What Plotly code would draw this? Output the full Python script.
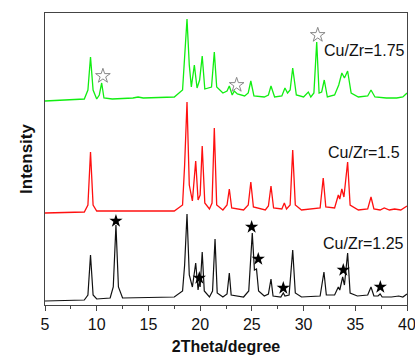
import plotly.graph_objects as go

# ---------------- data (2Theta in degree, intensity in arbitrary offset units) ----------------
black_x = [5.0, 8.8, 9.15, 9.4, 9.65, 10.0, 11.3, 11.6, 11.86, 12.1, 12.5, 17.5, 18.3, 18.5, 18.73, 18.95,
           19.25, 19.57, 19.8, 19.92, 20.0, 20.2, 20.4, 20.9, 21.2, 21.44, 21.65, 22.2, 22.6, 22.82, 23.0,
           24.2, 24.7, 25.04, 25.25, 25.45, 25.65, 26.2, 26.6, 26.85, 27.05, 27.8, 28.04, 28.2, 28.6, 28.95,
           29.2, 29.8, 31.6, 31.97, 32.2, 33.0, 33.36, 33.5, 33.78, 33.95, 34.26, 34.5, 35.2, 36.2, 36.52,
           36.8, 37.2, 37.4, 37.6, 38.5, 39.2, 39.6, 40.0]
black_y = [4, 5, 10, 50, 10, 6, 7, 18, 80, 18, 7, 8, 14, 40, 91, 30,
           18, 42, 15, 24, 18, 53, 14, 8, 14, 66, 12, 8, 11, 32, 10,
           8, 14, 72, 35, 36, 14, 9, 11, 26, 9, 8, 12, 9, 10, 55,
           12, 8, 9, 33, 10, 10, 18, 15, 28, 20, 52, 12, 9, 10, 18,
           9, 9, 11, 8, 8, 9, 8, 11]

red_x = [5.0, 8.8, 9.15, 9.4, 9.65, 10.0, 17.5, 18.3, 18.5, 18.73, 18.95, 19.25, 19.57, 19.8, 20.0, 20.2,
         20.45, 20.9, 21.15, 21.37, 21.6, 22.2, 22.6, 22.82, 23.05, 24.2, 24.65, 24.9, 25.15, 26.3, 26.6,
         26.85, 27.1, 27.9, 28.14, 28.35, 28.7, 28.95, 29.2, 29.8, 31.6, 31.9, 32.15, 33.0, 33.36, 33.5,
         33.7, 33.9, 34.26, 34.5, 35.3, 36.2, 36.52, 36.8, 37.4, 37.8, 38.3, 38.8, 39.4, 40.0]
red_y = [92, 93, 100, 153, 100, 94, 94, 100, 140, 203, 120, 104, 144, 105, 110, 159,
         102, 96, 102, 177, 100, 95, 100, 116, 97, 95, 100, 123, 98, 95, 99,
         119, 97, 96, 102, 96, 100, 155, 100, 95, 97, 127, 98, 97, 110, 106,
         116, 108, 143, 100, 95, 96, 108, 96, 95, 97, 95, 96, 95, 99]

green_x = [5.0, 8.8, 9.15, 9.4, 9.65, 10.0, 10.25, 10.48, 10.7, 11.5, 13.5, 14.0, 14.5, 17.5, 18.3, 18.5,
           18.73, 18.95, 19.15, 19.44, 19.7, 19.95, 20.2, 20.45, 21.1, 21.37, 21.6, 22.2, 22.6, 22.82, 23.1,
           23.3, 23.6, 24.3, 24.65, 24.9, 25.2, 26.2, 26.6, 26.85, 27.2, 27.9, 28.2, 28.45, 28.7, 28.95,
           29.3, 30.0, 30.46, 30.7, 31.0, 31.27, 31.5, 31.75, 32.0, 32.3, 33.0, 33.4, 33.7, 33.95, 34.26,
           34.6, 35.3, 36.2, 36.52, 36.9, 38.0, 39.0, 39.6, 40.0]
green_y = [204, 206, 215, 248, 215, 206, 210, 222, 207, 206, 207, 208, 207, 208, 215, 250,
           286, 240, 218, 240, 217, 225, 249, 216, 218, 253, 218, 212, 214, 219, 210,
           214, 211, 209, 212, 224, 209, 208, 210, 219, 208, 209, 217, 212, 215, 237,
           210, 208, 213, 208, 212, 263, 212, 213, 225, 208, 210, 220, 232, 227, 234,
           212, 208, 209, 215, 208, 207, 207, 208, 212]

black_star_x = [11.86, 19.92, 24.98, 25.62, 28.04, 33.84, 37.42]
black_star_y = [84, 27, 78, 46, 17, 35, 18]

green_star_x = [10.6, 23.53, 31.37]
green_star_y = [229, 220, 270]

labels = ["Cu/Zr=1.75", "Cu/Zr=1.5", "Cu/Zr=1.25"]
label_x = [31.78, 32.17, 31.68]
label_y = [255, 153, 62]

x_ticks = [5, 10, 15, 20, 25, 30, 35, 40]

# ---------------- figure ----------------
FONT = "Liberation Sans, Arial, sans-serif"
fig = go.Figure()

fig.add_trace(go.Scatter(x=black_x, y=black_y, mode="lines",
                         line=dict(color="#111111", width=1.2), hoverinfo="skip"))
fig.add_trace(go.Scatter(x=red_x, y=red_y, mode="lines",
                         line=dict(color="#ff1010", width=1.3), hoverinfo="skip"))
fig.add_trace(go.Scatter(x=green_x, y=green_y, mode="lines",
                         line=dict(color="#11ee11", width=1.3), hoverinfo="skip"))

fig.add_trace(go.Scatter(x=black_star_x, y=black_star_y, mode="markers",
                         marker=dict(symbol="star", size=10, color="#000000", line=dict(width=0)),
                         hoverinfo="skip"))
fig.add_trace(go.Scatter(x=green_star_x, y=green_star_y, mode="markers",
                         marker=dict(symbol="star-open", size=11, color="#888888", line=dict(width=1)),
                         hoverinfo="skip"))

for t, xx, yy in zip(labels, label_x, label_y):
    fig.add_annotation(x=xx, y=yy, text=t, showarrow=False, xanchor="left", yanchor="middle",
                       font=dict(family=FONT, size=16, color="#111111"))

fig.update_layout(
    width=415, height=362,
    margin=dict(l=45, r=8, t=13, b=57),
    paper_bgcolor="white", plot_bgcolor="white",
    showlegend=False,
    font=dict(family=FONT, color="#111111"),
)

fig.update_xaxes(
    range=[5, 40], tickmode="array", tickvals=x_ticks, ticktext=[str(v) for v in x_ticks],
    ticks="outside", ticklen=5, tickwidth=1, tickcolor="#444444",
    minor=dict(ticks="outside", ticklen=3, tickwidth=1, tickcolor="#444444", dtick=2.5, showgrid=False),
    showline=True, linecolor="#444444", linewidth=1, mirror=True,
    showgrid=False, zeroline=False, ticklabeloverflow="allow", automargin=False,
    tickfont=dict(family=FONT, size=16, color="#111111"),
    title=dict(text="<b>2Theta/degree</b>", font=dict(family=FONT, size=16, color="#111111"), standoff=8),
)
fig.update_yaxes(
    range=[0, 292], showticklabels=False, ticks="",
    showline=True, linecolor="#444444", linewidth=1, mirror=True,
    showgrid=False, zeroline=False, automargin=False,
    title=dict(text="<b>Intensity</b>", font=dict(family=FONT, size=17, color="#111111"), standoff=7),
)

fig.write_html("out.html", config={"displayModeBar": False},
               post_script="document.body.style.margin='0';document.body.style.overflow='hidden';")
